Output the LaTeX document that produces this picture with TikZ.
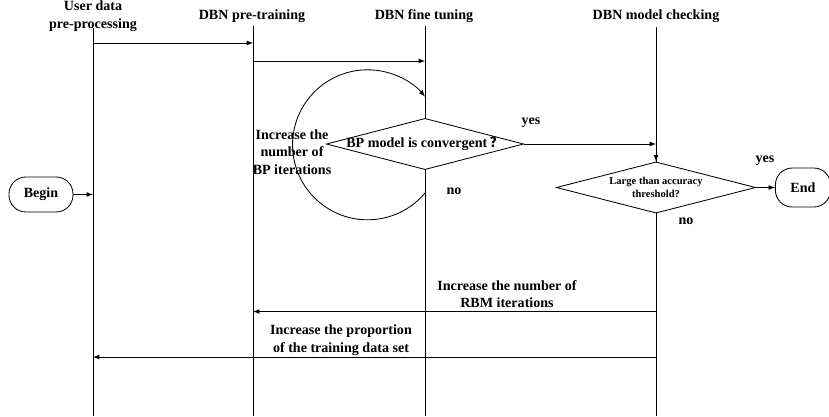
\documentclass[tikz,border=0pt]{standalone}
\usepackage{fontspec}
\setmainfont{Liberation Serif}
\newfontfamily\cjkfont{Noto Sans CJK SC}
\usepackage{tikz}
\usetikzlibrary{shapes.geometric, arrows, shapes, positioning}
\tikzstyle{mot} = [font = \fontsize{10}{12.5}\selectfont\bfseries, align = center, inner sep = 0pt]
\tikzstyle{bout} = [rectangle, rounded corners = 12pt, minimum width = 1.6cm, minimum height = 0.875cm, text centered, draw = black, font = \fontsize{10}{12.5}\selectfont\bfseries]
\tikzstyle{test} = [diamond, minimum width = 4.93cm, minimum height = 1.28cm, inner sep = 0pt, draw = black, fill = white]

\begin{document}
\begin{tikzpicture}[x = 0.025cm, y = -0.025cm, line width = 0.6pt]
\useasboundingbox (0,0) rectangle (829,416);
\node (h1) [mot] at (93,16) {User data\\pre-processing};
\node (h2) [mot] at (252,16) {DBN pre-training};
\node (h3) [mot] at (424,16) {DBN fine tuning};
\node (h4) [mot] at (656,16) {DBN model checking};
\foreach \lx/\ly in {93/28, 253/26, 425/26, 656/27}
  \draw (\lx,\ly) -- (\lx,416);
\node (1) [bout] at (41,194.5) {Begin};
\node (2) [test] at (425,144) {};
\node (2t) [mot] at (2) {BP model is convergent\,{\cjkfont ？}};
\node (3) [test, minimum width = 4.98cm] at (656,187.5) {};
\node (3t) [mot, font = \fontsize{7.5}{9.2}\selectfont\bfseries] at (3) {Large than accuracy\\threshold?};
\node (4) [bout, minimum width = 1.38cm, minimum height = 0.975cm] at (803,187.5) {End};
\coordinate (b1) at (93,194.5);
\coordinate (p1) at (93,43);
\coordinate (p2) at (253,43);
\coordinate (q2) at (253,61);
\coordinate (q3) at (425,61);
\coordinate (c3) at (425,193);
\coordinate (c4) at (656,144);
\coordinate (r4) at (656,311.5);
\coordinate (r2) at (253,311.5);
\coordinate (s4) at (656,357);
\coordinate (s1) at (93,357);
\draw[-latex] (1) -- (b1);
\draw[-latex] (p1) -- (p2);
\draw[-latex] (q2) -- (q3);
\draw[-latex] (c3) arc[start angle = 40, end angle = 320, radius = 75];
\draw[-latex] (2.east) -- (c4);
\draw[-latex] (c4) -- (3.north);
\draw[-latex] (3.east) -- (4.west);
\draw[-latex] (r4) -- (r2);
\draw[-latex] (s4) -- (s1);
\node (yes1) [mot] at (531,123) {yes};
\node (no1) [mot] at (454,191) {no};
\node (yes2) [mot] at (765,161) {yes};
\node (no2) [mot] at (686,221) {no};
\node (5) [mot] at (292,152) {Increase the\\number of\\BP iterations};
\node (6) [mot] at (507,294) {Increase the number of\\RBM iterations};
\node (7) [mot] at (341,340) {Increase the proportion\\of the training data set};
\end{tikzpicture}
\end{document}
